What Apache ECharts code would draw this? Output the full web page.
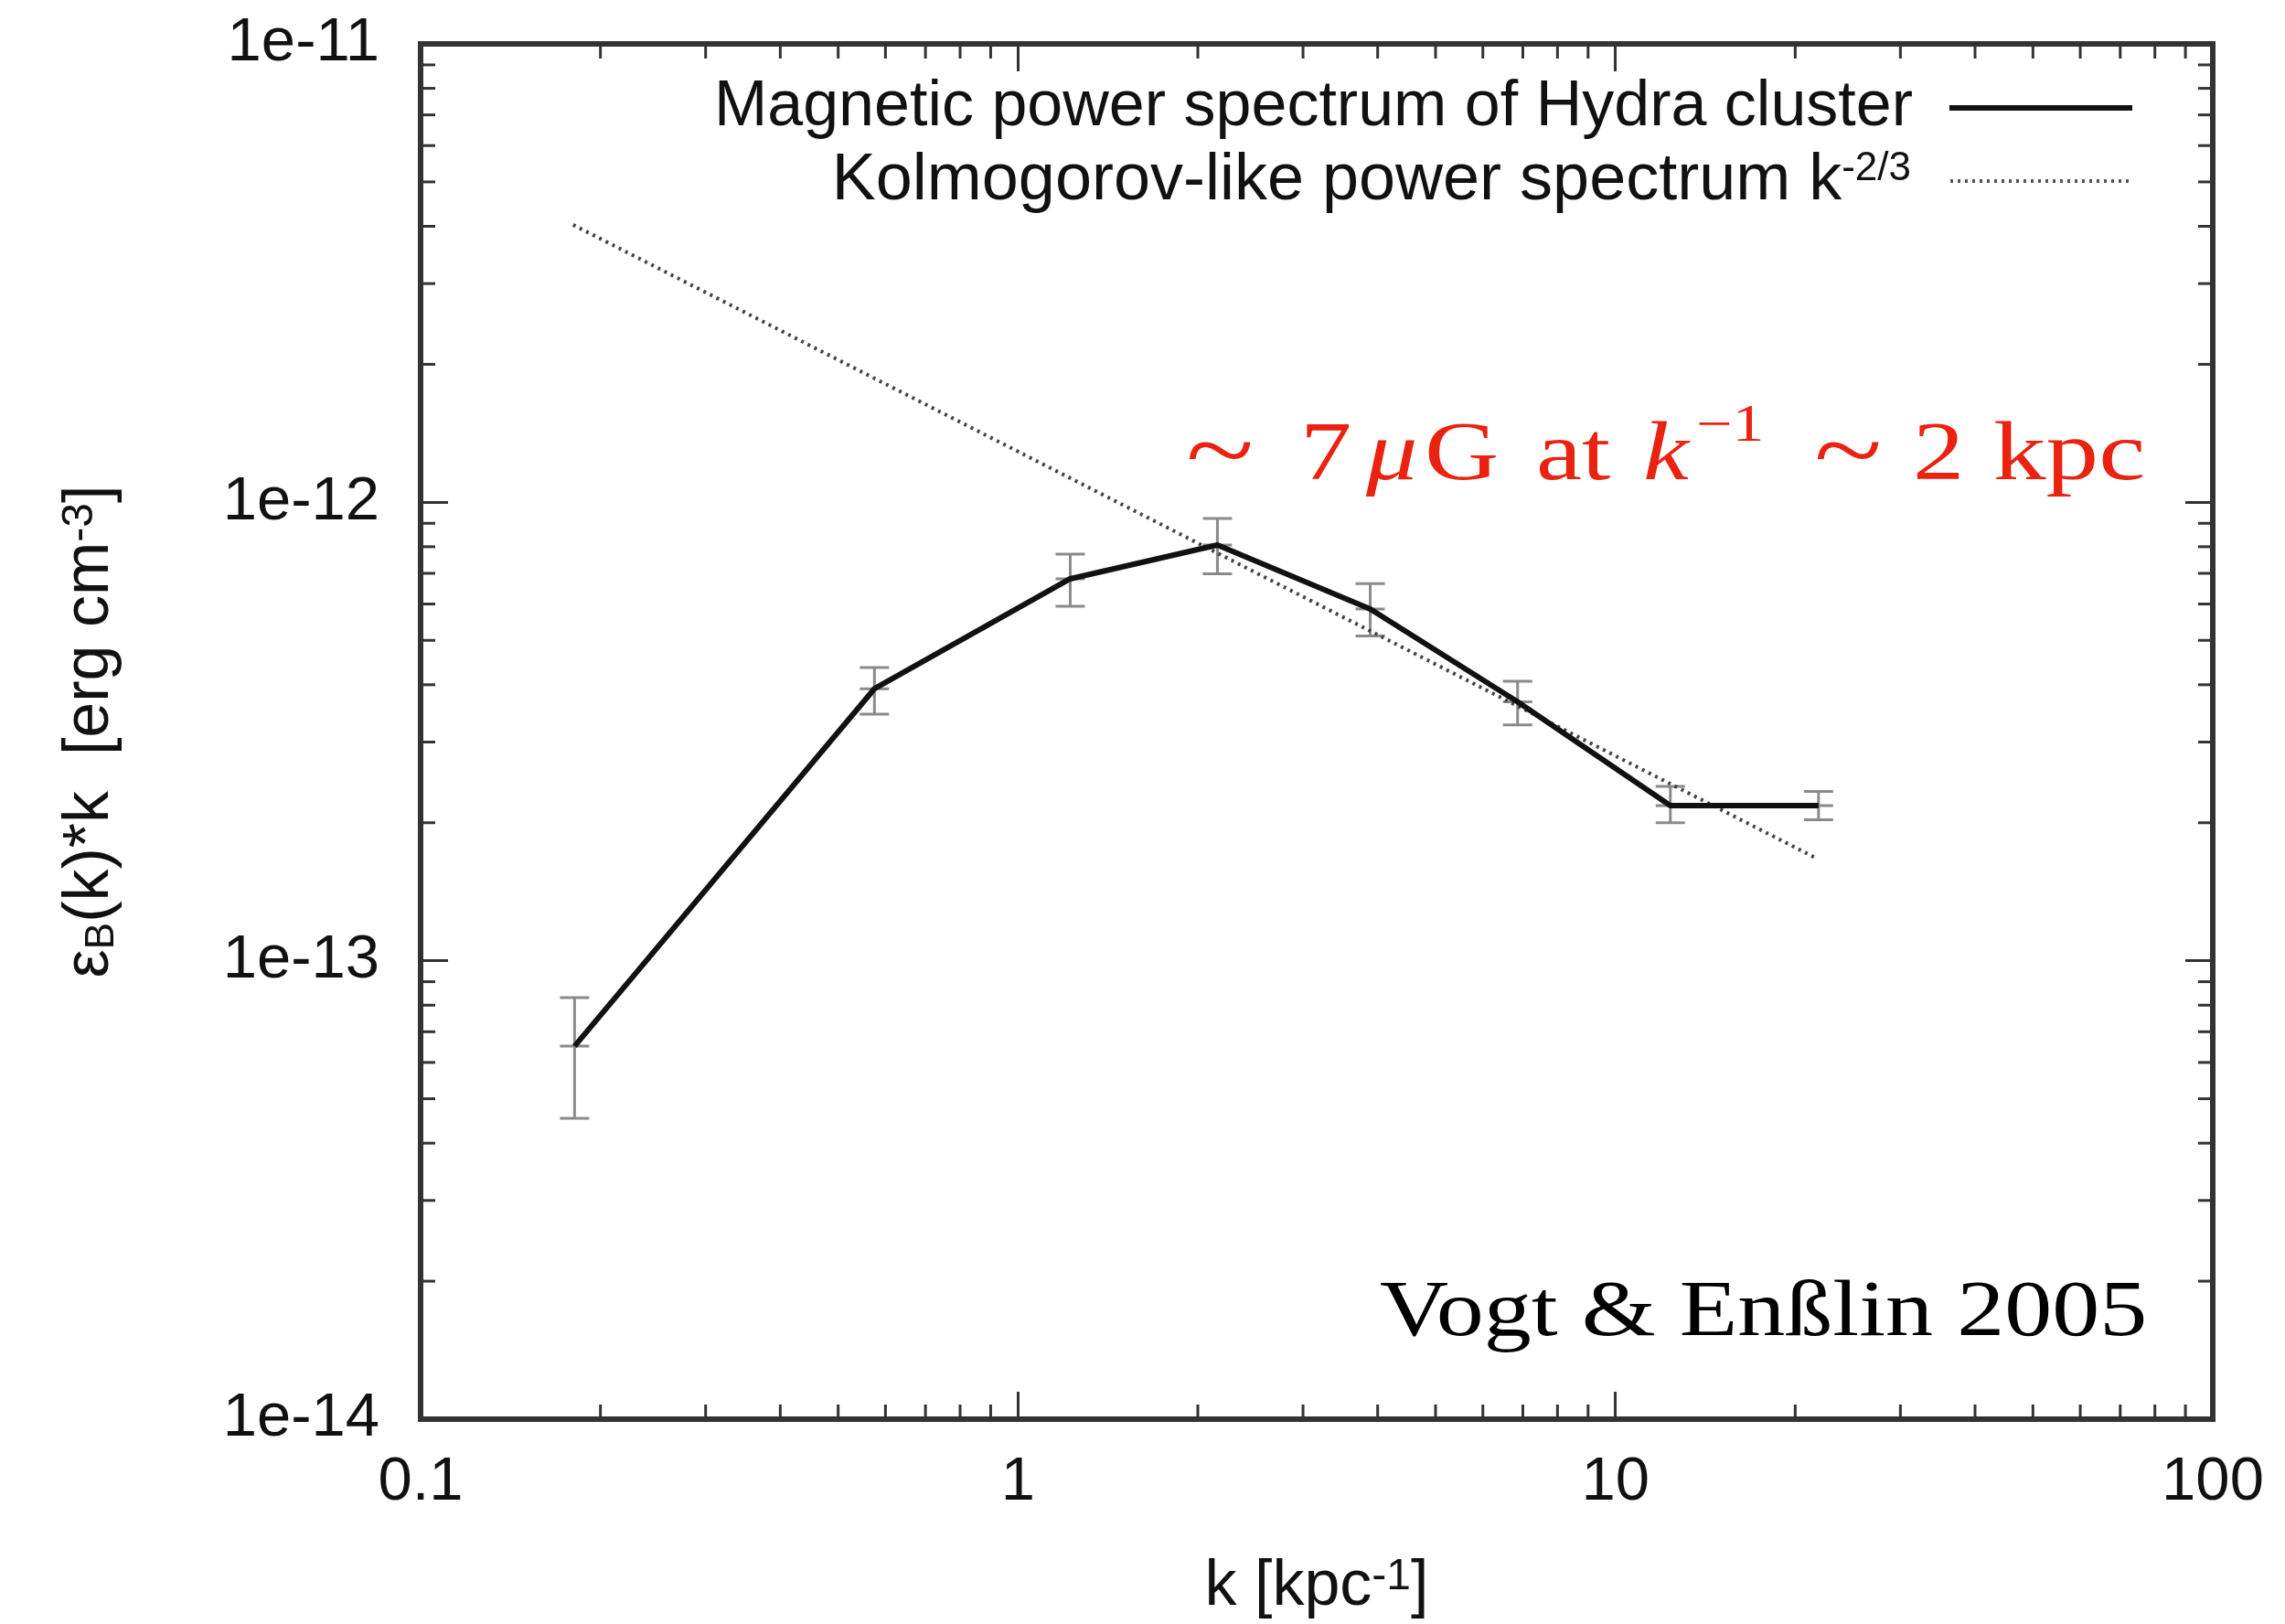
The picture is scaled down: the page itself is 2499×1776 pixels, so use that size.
<!DOCTYPE html>
<html><head><meta charset="utf-8">
<script src="https://cdn.jsdelivr.net/npm/echarts@6/dist/echarts.min.js"></script>
<style>html,body{margin:0;padding:0;background:#fff}#c{width:2499px;height:1776px}</style>
</head><body><div id="c"></div><script>
// ---- data ----
const kValues   = [0.181, 0.575, 1.223, 2.157, 3.887, 6.86, 12.36, 21.88];
const spectrum  = [6.51e-14, 3.92e-13, 6.81e-13, 8.07e-13, 5.85e-13, 3.67e-13, 2.18e-13, 2.18e-13];
const errLow    = [4.53e-14, 3.45e-13, 5.93e-13, 6.98e-13, 5.11e-13, 3.27e-13, 2.00e-13, 2.03e-13];
const errHigh   = [8.31e-14, 4.36e-13, 7.71e-13, 9.22e-13, 6.65e-13, 4.07e-13, 2.40e-13, 2.34e-13];
const kolmoK      = [0.180, 21.57];
const kolmoValues = [4.03e-12, 1.68e-13];
const xTickLabels = ['0.1', '1', '10', '100'];
const yTickLabels = ['1e-14', '1e-13', '1e-12', '1e-11'];
const minorMantissas = [2, 3, 4, 5, 6, 7, 8, 9];
const xDecades = [0.1, 1, 10];
const yDecades = [1e-14, 1e-13, 1e-12];
const xMin = 0.1, xMax = 100, yMin = 1e-14, yMax = 1e-11;

const NAME_MAIN  = 'Magnetic power spectrum of Hydra cluster';
const NAME_KOLMO = 'Kolmogorov-like power spectrum k^-2/3';

const AXIS = '#333333';
const SANS = 'Liberation Sans';
const SERIF = 'Liberation Serif';
const RED = '#ea2210';

const xMinor = [];
xDecades.forEach(d => minorMantissas.forEach(m => xMinor.push(m * d)));
const yMinor = [];
yDecades.forEach(d => minorMantissas.forEach(m => yMinor.push(m * d)));

function minorTicks(values, isX) {
  return {
    type: 'custom', silent: true, z: 5, clip: false,
    data: values.map(v => isX ? [v, yMin] : [xMin, v]),
    renderItem(params, api) {
      const L = 16, st = { stroke: AXIS, lineWidth: 3 };
      if (isX) {
        const v = api.value(0);
        const b = api.coord([v, yMin]), t = api.coord([v, yMax]);
        return { type: 'group', children: [
          { type: 'line', shape: { x1: b[0], y1: b[1], x2: b[0], y2: b[1] - L }, style: st },
          { type: 'line', shape: { x1: t[0], y1: t[1], x2: t[0], y2: t[1] + L }, style: st }
        ]};
      } else {
        const v = api.value(1);
        const l = api.coord([xMin, v]), r = api.coord([xMax, v]);
        return { type: 'group', children: [
          { type: 'line', shape: { x1: l[0], y1: l[1], x2: l[0] + L, y2: l[1] }, style: st },
          { type: 'line', shape: { x1: r[0], y1: r[1], x2: r[0] - L, y2: r[1] }, style: st }
        ]};
      }
    }
  };
}

const axisLine = { show: true, onZero: false, lineStyle: { color: AXIS, width: 6, cap: 'square' } };
const axisTick = { show: true, inside: true, length: 30, lineStyle: { color: AXIS, width: 3 } };
const tickFont = { fontSize: 67, fontFamily: SANS, color: '#111' };

function xLabel(v) { return xTickLabels[Math.round(Math.log10(v) - Math.log10(xMin))]; }
function yLabel(v) { return yTickLabels[Math.round(Math.log10(v) - Math.log10(yMin))]; }

function serifText(x, y, text, size, opts) {
  opts = opts || {};
  return {
    type: 'text', x: x, y: y, scaleX: opts.scaleX || 1.25,
    style: {
      text: text,
      font: (opts.italic ? 'italic ' : '') + size + 'px "' + SERIF + '"',
      fill: opts.color || RED, verticalAlign: 'middle'
    }
  };
}

const chart = echarts.init(document.getElementById('c'), null, { renderer: 'canvas' });
chart.setOption({
  animation: false,
  backgroundColor: '#ffffff',
  grid: { left: 460, top: 48, right: 79, bottom: 224, containLabel: false, outerBoundsMode: 'none' },
  xAxis: [
    {
      type: 'log', logBase: 10, min: xMin, max: xMax, position: 'bottom',
      axisLine, axisTick, splitLine: { show: false },
      axisLabel: Object.assign({ margin: 36, formatter: xLabel, showMinLabel: true, showMaxLabel: true }, tickFont),
      name: '{a|k [kpc}{sup|-1}{a|]}', nameLocation: 'middle', nameGap: 149,
      nameTextStyle: { rich: {
        a: { fontSize: 70, lineHeight: 70, fontFamily: SANS, color: '#111' },
        sup: { fontSize: 48, lineHeight: 12, verticalAlign: 'top', fontFamily: SANS, color: '#111' }
      } }
    },
    {
      type: 'log', logBase: 10, min: xMin, max: xMax, position: 'top',
      axisLine, axisTick, splitLine: { show: false }, axisLabel: { show: false }
    }
  ],
  yAxis: [
    {
      type: 'log', logBase: 10, min: yMin, max: yMax, position: 'left',
      axisLine, axisTick, splitLine: { show: false },
      axisLabel: Object.assign({ margin: 45, formatter: yLabel, showMinLabel: true, showMaxLabel: true }, tickFont),
      name: '{e|\u03b5}{sub|B}{a|(k)*k  [erg cm}{sup|-3}{a|]}', nameLocation: 'middle', nameRotate: 90, nameGap: 326,
      nameTextStyle: { rich: {
        e: { fontSize: 70, lineHeight: 70, fontFamily: SANS, color: '#111' },
        a: { fontSize: 70, lineHeight: 70, fontFamily: SANS, color: '#111' },
        sub: { fontSize: 44, lineHeight: 12, verticalAlign: 'bottom', fontFamily: SANS, color: '#111' },
        sup: { fontSize: 48, lineHeight: 6, verticalAlign: 'top', fontFamily: SANS, color: '#111' }
      } }
    },
    {
      type: 'log', logBase: 10, min: yMin, max: yMax, position: 'right',
      axisLine, axisTick, splitLine: { show: false }, axisLabel: { show: false }
    }
  ],
  legend: [
    {
      data: [NAME_MAIN], right: 164, top: 83, orient: 'vertical', align: 'right', padding: 0,
      itemWidth: 200, itemHeight: 14, selectedMode: false,
      itemStyle: { opacity: 0, borderWidth: 0 },
      lineStyle: { color: '#111111', width: 6 },
      formatter: n => '{t|' + n + '}',
      textStyle: { rich: { t: { fontSize: 70, lineHeight: 70, fontFamily: SANS, color: '#111', padding: [0, 35, 0, 0] } } }
    },
    {
      data: [NAME_KOLMO], right: 164, top: 162, orient: 'vertical', align: 'right', padding: 0,
      itemWidth: 200, itemHeight: 14, selectedMode: false,
      itemStyle: { opacity: 0, borderWidth: 0 },
      lineStyle: { color: '#555555', width: 4, type: [3, 5] },
      formatter: () => '{t|Kolmogorov-like power spectrum k}{sup|-2/3}',
      textStyle: { rich: {
        t: { fontSize: 72, lineHeight: 70, fontFamily: SANS, color: '#111' },
        sup: { fontSize: 44, lineHeight: 15, verticalAlign: 'top', fontFamily: SANS, color: '#111', padding: [0, 38, 0, 0] }
      } }
    }
  ],
  series: [
    {
      name: 'error bars', type: 'custom', z: 3, clip: false,
      data: kValues.map((k, i) => [k, spectrum[i], errLow[i], errHigh[i]]),
      encode: { x: 0, y: [1, 2, 3] },
      renderItem(params, api) {
        const k = api.value(0);
        const c = api.coord([k, api.value(1)]);
        const lo = api.coord([k, api.value(2)]);
        const hi = api.coord([k, api.value(3)]);
        const w = 16, st = { stroke: '#8a8a8a', lineWidth: 3 };
        return { type: 'group', children: [
          { type: 'line', shape: { x1: lo[0], y1: lo[1], x2: hi[0], y2: hi[1] }, style: st },
          { type: 'line', shape: { x1: lo[0] - w, y1: lo[1], x2: lo[0] + w, y2: lo[1] }, style: st },
          { type: 'line', shape: { x1: hi[0] - w, y1: hi[1], x2: hi[0] + w, y2: hi[1] }, style: st },
          { type: 'line', shape: { x1: c[0] - w, y1: c[1], x2: c[0] + w, y2: c[1] }, style: st }
        ]};
      }
    },
    {
      name: NAME_KOLMO, type: 'line', z: 3,
      data: kolmoK.map((k, i) => [k, kolmoValues[i]]),
      symbol: 'none', lineStyle: { color: '#444444', width: 4, type: [3, 5] }, itemStyle: { color: '#444444' }
    },
    {
      name: NAME_MAIN, type: 'line', z: 4,
      data: kValues.map((k, i) => [k, spectrum[i]]),
      symbol: 'none', lineStyle: { color: '#111111', width: 6 }, itemStyle: { color: '#111111' }
    },
    minorTicks(xMinor, true),
    minorTicks(yMinor, false)
  ],
  graphic: [
    serifText(1297, 500, '~', 110),
    serifText(1422, 500, '7', 90),
    serifText(1494, 500, '\u03bc', 90, { italic: true }),
    serifText(1558, 500, 'G', 90),
    serifText(1680, 500, 'at', 90),
    serifText(1797, 500, 'k', 90, { italic: true }),
    serifText(1855, 467, '\u22121', 56),
    serifText(1984, 500, '~', 110),
    serifText(2092, 500, '2', 90),
    serifText(2180, 500, 'kpc', 90, { scaleX: 1.28 }),
    serifText(1509, 1437.7, 'Vogt & En\u00dflin 2005', 86, { scaleX: 1.21, color: '#000' })
  ]
});
</script></body></html>
